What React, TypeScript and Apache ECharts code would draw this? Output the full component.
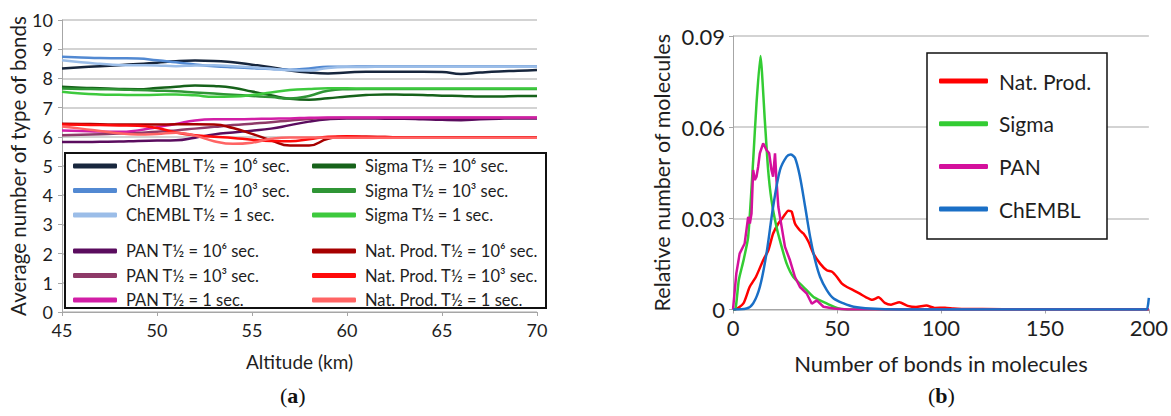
import React, { useEffect, useRef } from "react";
import * as echarts from "echarts";

// ---------- Panel (a): average number of type of bonds vs altitude ----------
const altitudes = [45, 46, 47, 48, 49, 50, 51, 52, 53, 54, 55, 56, 57, 58, 59, 60, 61, 62, 63, 64, 65, 66, 67, 68, 69, 70];

const chembl6 = [8.34, 8.38, 8.42, 8.45, 8.49, 8.54, 8.59, 8.61, 8.6, 8.55, 8.47, 8.38, 8.27, 8.2, 8.17, 8.2, 8.23, 8.23, 8.23, 8.23, 8.22, 8.15, 8.2, 8.24, 8.26, 8.29];
const chembl3 = [8.74, 8.72, 8.7, 8.69, 8.68, 8.62, 8.55, 8.48, 8.42, 8.38, 8.35, 8.32, 8.3, 8.34, 8.4, 8.4, 8.41, 8.41, 8.41, 8.41, 8.41, 8.41, 8.41, 8.41, 8.41, 8.41];
const chembl1 = [8.62, 8.55, 8.5, 8.46, 8.45, 8.44, 8.42, 8.44, 8.45, 8.42, 8.38, 8.33, 8.28, 8.27, 8.36, 8.39, 8.39, 8.4, 8.4, 8.4, 8.4, 8.4, 8.4, 8.4, 8.4, 8.4];
const sigma6 = [7.71, 7.68, 7.66, 7.64, 7.63, 7.67, 7.71, 7.76, 7.74, 7.68, 7.55, 7.42, 7.3, 7.27, 7.32, 7.38, 7.43, 7.45, 7.44, 7.43, 7.41, 7.4, 7.38, 7.38, 7.4, 7.4];
const sigma3 = [7.65, 7.64, 7.63, 7.62, 7.6, 7.58, 7.56, 7.52, 7.48, 7.44, 7.4, 7.36, 7.31, 7.4, 7.58, 7.63, 7.64, 7.64, 7.64, 7.64, 7.64, 7.64, 7.64, 7.64, 7.64, 7.64];
const sigma1 = [7.54, 7.48, 7.45, 7.44, 7.43, 7.44, 7.45, 7.42, 7.37, 7.38, 7.43, 7.52, 7.6, 7.64, 7.66, 7.66, 7.65, 7.65, 7.65, 7.65, 7.65, 7.65, 7.65, 7.65, 7.65, 7.65];
const pan6 = [5.82, 5.82, 5.83, 5.84, 5.86, 5.87, 5.88, 5.97, 6.08, 6.15, 6.21, 6.28, 6.4, 6.52, 6.6, 6.63, 6.63, 6.62, 6.62, 6.6, 6.58, 6.57, 6.6, 6.62, 6.63, 6.63];
const pan3 = [6.05, 6.07, 6.09, 6.11, 6.14, 6.17, 6.22, 6.28, 6.34, 6.4, 6.45, 6.5, 6.56, 6.61, 6.64, 6.65, 6.65, 6.65, 6.65, 6.65, 6.65, 6.65, 6.65, 6.65, 6.65, 6.65];
const pan1 = [6.22, 6.2, 6.18, 6.17, 6.22, 6.33, 6.44, 6.56, 6.6, 6.6, 6.61, 6.62, 6.63, 6.65, 6.66, 6.66, 6.66, 6.66, 6.66, 6.66, 6.66, 6.66, 6.66, 6.66, 6.66, 6.66];
const natprod6 = [6.45, 6.44, 6.43, 6.42, 6.42, 6.42, 6.43, 6.43, 6.42, 6.3, 6.1, 5.88, 5.7, 5.7, 5.93, 6.0, 6.0, 5.99, 5.98, 5.98, 5.98, 5.98, 5.98, 5.98, 5.98, 5.98];
const natprod3 = [6.42, 6.41, 6.4, 6.39, 6.38, 6.3, 6.15, 6.05, 6.0, 5.96, 5.9, 5.86, 5.85, 5.92, 6.0, 6.02, 6.0, 5.99, 5.98, 5.98, 5.98, 5.98, 5.98, 5.98, 5.98, 5.98];
const natprod1 = [6.35, 6.28, 6.2, 6.12, 6.08, 6.1, 6.14, 6.04, 5.85, 5.76, 5.8, 5.93, 5.98, 5.98, 5.97, 5.97, 5.97, 5.97, 5.97, 5.97, 5.97, 5.97, 5.97, 5.97, 5.97, 5.97];

const leftTicksY = [0, 1, 2, 3, 4, 5, 6, 7, 8, 9, 10];
const leftTicksX = [45, 50, 55, 60, 65, 70];

// ---------- Panel (b): relative number of molecules vs number of bonds ----------
const natBonds = [0, 1, 5, 8, 11, 14.5, 17, 19.3, 21.8, 24.2, 26.6, 28.2, 29.8, 32.2, 33.9, 36.3, 38.7, 41.9, 45.1, 47.6, 50, 52.4, 54.8, 58, 61, 64, 67, 70, 73, 76, 80, 84, 88, 93, 97, 102, 106, 110, 130, 150, 170, 200];
const natValues = [0, 0, 0.002, 0.0074, 0.0107, 0.0162, 0.0195, 0.025, 0.0283, 0.0305, 0.0325, 0.0322, 0.0283, 0.026, 0.025, 0.0223, 0.0184, 0.0151, 0.0129, 0.0124, 0.0107, 0.0085, 0.0074, 0.0063, 0.0052, 0.004, 0.0032, 0.004, 0.0022, 0.0016, 0.0024, 0.0012, 0.0008, 0.0013, 0.0005, 0.0006, 0.0003, 0.0002, 0.0001, 0.0001, 0.0001, 0.0001];

const sigmaBonds = [0, 1, 2.8, 5, 7.3, 9.7, 11.3, 13.2, 15.3, 16.9, 18.5, 20.9, 23.4, 25.8, 29, 33.9, 38.7, 43.5, 48.4, 52, 60, 100, 150, 200];
const sigmaValues = [0, 0, 0.0097, 0.016, 0.0239, 0.049, 0.0678, 0.0834, 0.0623, 0.0459, 0.036, 0.0272, 0.0206, 0.0151, 0.0107, 0.0074, 0.0041, 0.0025, 0.0009, 0.0002, 0, 0, 0, 0];

const panBonds = [0, 1.6, 3.2, 5.6, 7.3, 8.1, 8.9, 9.7, 10.5, 11.3, 12.1, 12.9, 14.5, 16.1, 17.4, 18.5, 19.3, 20.2, 20.9, 21.8, 23.4, 25, 27.4, 29.8, 32.2, 35.5, 37.9, 40.3, 43.5, 48.4, 55, 100, 150, 200];
const panValues = [0, 0.0119, 0.0184, 0.0217, 0.0305, 0.0283, 0.0316, 0.0459, 0.0426, 0.0437, 0.047, 0.0514, 0.0547, 0.0525, 0.0514, 0.0459, 0.0437, 0.0514, 0.0426, 0.0338, 0.0272, 0.0206, 0.0162, 0.0107, 0.0074, 0.0052, 0.0019, 0.003, 0.0009, 0.0003, 0, 0, 0, 0];

const chemblBonds = [0, 6.5, 9.7, 12.9, 16.1, 19.3, 22.6, 25.8, 27.7, 29.8, 32.2, 34.7, 37.1, 39.5, 41.9, 45.1, 48.4, 53.2, 58, 66, 80, 120, 160, 198, 199, 200];
const chemblValues = [0, 0.0003, 0.002, 0.0074, 0.0184, 0.0338, 0.0459, 0.0503, 0.051, 0.0499, 0.0437, 0.0338, 0.0239, 0.0162, 0.0107, 0.0064, 0.0036, 0.002, 0.0009, 0.0003, 0, 0, 0, 0, 0, 0.0038];

const rightTicksY = [0, 0.03, 0.06, 0.09];
const rightTicksX = [0, 50, 100, 150, 200];

const FONT = "Lato";
const TEXT = "#1e1e1e";
const GRID = "#c4c4c4";
const AXIS = "#a6a6a6";

const zip = (xs: number[], ys: number[]) => xs.map((x, i) => [x, ys[i]]);

export default function App() {
  const ref = useRef<HTMLDivElement>(null);

  useEffect(() => {
    if (!ref.current) return;
    const chart = echarts.init(ref.current, undefined, { renderer: "svg" });

    const leftSeriesDefs = [
      { name: "ChEMBL T½ = 10⁶ sec.", data: chembl6, color: "#17263d" },
      { name: "ChEMBL T½ = 10³ sec.", data: chembl3, color: "#5289d2" },
      { name: "ChEMBL T½ = 1 sec.", data: chembl1, color: "#9bbde8" },
      { name: "Sigma T½ = 10⁶ sec.", data: sigma6, color: "#16621a" },
      { name: "Sigma T½ = 10³ sec.", data: sigma3, color: "#2f9535" },
      { name: "Sigma T½ = 1 sec.", data: sigma1, color: "#3dc93d" },
      { name: "PAN T½ = 10⁶ sec.", data: pan6, color: "#5a0c5e" },
      { name: "PAN T½ = 10³ sec.", data: pan3, color: "#8e3a68" },
      { name: "PAN T½ = 1 sec.", data: pan1, color: "#d21ea6" },
      { name: "Nat. Prod. T½ = 10⁶ sec.", data: natprod6, color: "#a60000" },
      { name: "Nat. Prod. T½ = 10³ sec.", data: natprod3, color: "#ff0a0a" },
      { name: "Nat. Prod. T½ = 1 sec.", data: natprod1, color: "#ff6464" },
    ];

    const rightSeriesDefs = [
      { name: "Nat. Prod.", xs: natBonds, ys: natValues, color: "#ff0000", smooth: 0.2 },
      { name: "Sigma", xs: sigmaBonds, ys: sigmaValues, color: "#33cc33", smooth: 0.2 },
      { name: "PAN", xs: panBonds, ys: panValues, color: "#d4109c", smooth: false },
      { name: "ChEMBL", xs: chemblBonds, ys: chemblValues, color: "#1a6fc6", smooth: 0.3 },
    ];

    const leftLegendCommon = {
      orient: "vertical" as const,
      padding: 0,
      itemWidth: 44,
      itemHeight: 5,
      itemGap: 4.5,
      icon: "roundRect",
      selectedMode: false,
      textStyle: { fontFamily: FONT, fontSize: 16.5, color: TEXT, lineHeight: 20, padding: [0, 0, 0, 4] },
    };

    const option: any = {
      animation: false,
      backgroundColor: "#ffffff",
      textStyle: { fontFamily: FONT },
      grid: [
        { left: 62, right: 1171 - 537, top: 20, bottom: 416 - 312, containLabel: false },
        { left: 733, right: 1171 - 1150, top: 36, bottom: 416 - 309.5, containLabel: false },
      ],
      xAxis: [
        {
          gridIndex: 0, type: "value", min: leftTicksX[0], max: leftTicksX[leftTicksX.length - 1], interval: 5,
          name: "Altitude (km)", nameLocation: "middle", nameGap: 40,
          nameTextStyle: { fontFamily: FONT, fontSize: 19, color: TEXT },
          axisLine: { lineStyle: { color: AXIS, width: 1 } },
          axisTick: { show: true, length: 4, lineStyle: { color: AXIS } },
          axisLabel: { fontFamily: FONT, fontSize: 18, color: TEXT, margin: 9 },
          splitLine: { show: false },
        },
        {
          gridIndex: 1, type: "value", min: rightTicksX[0], max: rightTicksX[rightTicksX.length - 1], interval: 50,
          name: "Number of bonds in molecules", nameLocation: "middle", nameGap: 43,
          nameTextStyle: { fontFamily: FONT, fontSize: 22, color: TEXT },
          axisLine: { lineStyle: { color: AXIS, width: 1 } },
          axisTick: { show: true, length: 4, lineStyle: { color: AXIS } },
          axisLabel: { fontFamily: FONT, fontSize: 22, color: TEXT, margin: 7 },
          splitLine: { show: false },
        },
      ],
      yAxis: [
        {
          gridIndex: 0, type: "value", min: leftTicksY[0], max: leftTicksY[leftTicksY.length - 1], interval: 1,
          name: "Average number of type of bonds", nameLocation: "middle", nameGap: 26,
          nameTextStyle: { fontFamily: FONT, fontSize: 20.5, color: TEXT },
          axisLine: { show: true, lineStyle: { color: AXIS, width: 1 } },
          axisTick: { show: true, length: 4, lineStyle: { color: AXIS } },
          axisLabel: { fontFamily: FONT, fontSize: 18, color: TEXT, margin: 9 },
          splitLine: { show: true, lineStyle: { color: GRID, width: 1.5 } },
        },
        {
          gridIndex: 1, type: "value", min: rightTicksY[0], max: rightTicksY[rightTicksY.length - 1], interval: 0.03,
          name: "Relative number of molecules", nameLocation: "middle", nameGap: 60,
          nameTextStyle: { fontFamily: FONT, fontSize: 21.5, color: TEXT },
          axisLine: { show: true, lineStyle: { color: AXIS, width: 1 } },
          axisTick: { show: true, length: 4, lineStyle: { color: AXIS } },
          axisLabel: {
            fontFamily: FONT, fontSize: 22, color: TEXT, margin: 8,
            formatter: (v: number) => (v === 0 ? "0" : v.toFixed(2)),
          },
          splitLine: { show: true, lineStyle: { color: GRID, width: 1.5 } },
        },
      ],
      legend: [
        { ...leftLegendCommon, left: 73, top: 156, data: leftSeriesDefs.slice(0, 3).map((s) => s.name) },
        { ...leftLegendCommon, left: 73, top: 241, data: leftSeriesDefs.slice(6, 9).map((s) => s.name) },
        { ...leftLegendCommon, left: 312, top: 156, data: leftSeriesDefs.slice(3, 6).map((s) => s.name) },
        { ...leftLegendCommon, left: 312, top: 241, data: leftSeriesDefs.slice(9, 12).map((s) => s.name) },
        {
          orient: "vertical", padding: 0, left: 939, top: 69,
          itemWidth: 49, itemHeight: 5, itemGap: 18.7, icon: "roundRect", selectedMode: false,
          textStyle: { fontFamily: FONT, fontSize: 21, color: TEXT, lineHeight: 24, padding: [0, 0, 0, 6] },
          data: rightSeriesDefs.map((s) => s.name),
        },
      ],
      graphic: [
        {
          type: "rect", z: 1, shape: { x: 65, y: 153, width: 481, height: 155 },
          style: { fill: "#ffffff", stroke: "#111111", lineWidth: 2 },
        },
        {
          type: "rect", z: 1, shape: { x: 927, y: 53, width: 180, height: 186 },
          style: { fill: "#ffffff", stroke: "#111111", lineWidth: 1.5 },
        },
        {
          type: "text", left: 280, top: 384,
          style: {
            text: "({b|a})",
            rich: { b: { fontFamily: "Liberation Serif", fontSize: 22, fontWeight: "bold", fill: "#111" } },
            fontFamily: "Liberation Serif", fontSize: 22, fill: "#111",
          },
        },
        {
          type: "text", left: 928, top: 384,
          style: {
            text: "({b|b})",
            rich: { b: { fontFamily: "Liberation Serif", fontSize: 22, fontWeight: "bold", fill: "#111" } },
            fontFamily: "Liberation Serif", fontSize: 22, fill: "#111",
          },
        },
      ],
      series: [
        ...leftSeriesDefs.map((s) => ({
          name: s.name, type: "line", xAxisIndex: 0, yAxisIndex: 0,
          data: zip(altitudes, s.data), smooth: 0.5, showSymbol: false, symbol: "none",
          lineStyle: { color: s.color, width: 2.5 }, itemStyle: { color: s.color },
          z: 2,
        })),
        ...rightSeriesDefs.map((s) => ({
          name: s.name, type: "line", xAxisIndex: 1, yAxisIndex: 1,
          data: zip(s.xs, s.ys), smooth: s.smooth, showSymbol: false, symbol: "none",
          lineStyle: { color: s.color, width: 2.5 }, itemStyle: { color: s.color },
          z: 2,
        })),
      ],
    };

    chart.setOption(option);
    return () => chart.dispose();
  }, []);

  return (
    <div
      ref={ref}
      style={{ position: "fixed", left: 0, top: 0, width: 1171, height: 416, background: "#fff" }}
    />
  );
}
